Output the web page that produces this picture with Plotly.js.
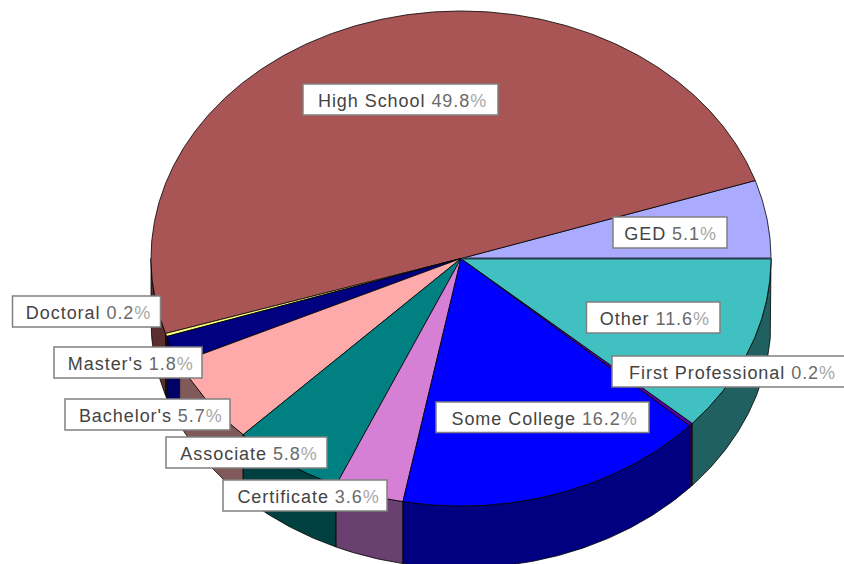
<!DOCTYPE html>
<html>
<head>
<meta charset="utf-8">
<script src="https://cdn.plot.ly/plotly-3.0.1.min.js"></script>
<style>
html,body{margin:0;padding:0;background:#fff;overflow:hidden}
.annotation text{letter-spacing:0.95px}
</style>
</head>
<body>
<div id="chart" style="width:844px;height:564px"></div>
<script>
// Data, counter-clockwise from the east point of the pie
const categories = ["GED","High School","Doctoral","Master's","Bachelor's","Associate","Certificate","Some College","First Professional","Other"];
const shares = [5.1,49.8,0.2,1.8,5.7,5.8,3.6,16.2,0.2,11.6];

// Styles
const topColors = ["#AAAAFF","#AA5555","#FFFF80","#000080","#FFAAAA","#008080","#D580D5","#0000FF","#5500AA","#40C0C0"];
const wallColors = ["#555580","#5C2E2E","#666633","#000066","#805A5A","#004040","#6A4070","#000080","#2A0055","#206060"];

// Label boxes: [left, top, right, bottom, text start]
const boxes = {
  "GED":[613,217,727,248,623],
  "High School":[303,84,498,115,318],
  "Doctoral":[12.5,296,160.5,327,25],
  "Master's":[54,347,202,378,67],
  "Bachelor's":[65,399,230,430,78],
  "Associate":[166,437,327,468,180],
  "Certificate":[223,480,387,511,237],
  "Some College":[436,402,649,432.5,451],
  "First Professional":[612,356,846,387,629],
  "Other":[586.5,302,720,333,599]
};

// Pie geometry in plot units
const cx = 461, cy = 258.5, rx = 310, ry = 247.5, depth = 62;
const px = d => cx + rx*Math.cos(d*Math.PI/180);
const py = d => cy - ry*Math.sin(d*Math.PI/180);
function arc(a,b){
  const out=[]; const n=Math.max(2,Math.ceil((b-a)/0.5));
  for(let i=0;i<=n;i++) out.push(a+(b-a)*i/n);
  return out;
}

const wallTraces=[], topTraces=[];
let acc=0;
categories.forEach((c,i)=>{
  const a=acc*3.6, b=(acc+shares[i])*3.6; acc+=shares[i];
  const pts=arc(a,b);
  topTraces.push({
    type:"scatter",mode:"lines",fill:"toself",fillcolor:topColors[i],
    x:[cx,...pts.map(px),cx],y:[cy,...pts.map(py),cy],
    line:{color:"#000",width:0.8},hoverinfo:"skip",showlegend:false,name:c
  });
  const wa=Math.max(a,180), wb=Math.min(b,360);
  if(wb>wa){
    const w=arc(wa,wb);
    wallTraces.push({
      type:"scatter",mode:"lines",fill:"toself",fillcolor:wallColors[i],
      x:[...w.map(px),...w.slice().reverse().map(px),px(wa)],
      y:[...w.map(py),...w.slice().reverse().map(d=>py(d)+depth),py(wa)],
      line:{color:"#000",width:0.8},hoverinfo:"skip",showlegend:false,name:c+" wall"
    });
  }
});
// the seam at the start angle reads heavier in the reference
const seam={type:"scatter",mode:"lines",x:[cx,px(0)],y:[cy,py(0)],line:{color:"#2A3A48",width:2},hoverinfo:"skip",showlegend:false,name:"seam"};

const shapes=[], annotations=[];
categories.forEach((c,i)=>{
  const [l,t,r,bt,tx]=boxes[c];
  const value=shares[i].toFixed(1);
  const len=(c+" "+value+"%").length;
  shapes.push({type:"rect",xref:"x",yref:"y",x0:l,x1:r,y0:t,y1:bt,fillcolor:"#fff",line:{color:"#808080",width:1.5},layer:"above"});
  // letter-spacing widens the text around its measured middle, so move the anchor by half the growth
  annotations.push({xref:"x",yref:"y",x:tx+0.44*len,y:(t+bt)/2+1.5,xanchor:"left",yanchor:"middle",showarrow:false,borderpad:0,
    text:'<span style="color:#444444">'+c+'</span> <span style="color:#6a6a6a">'+value+'</span><span style="color:#a8a8a8">%</span>',
    font:{family:"Liberation Sans, Arial, sans-serif",size:18,color:"#444444"}});
});

Plotly.newPlot("chart",[...wallTraces,...topTraces,seam],{
  width:844,height:564,margin:{l:0,r:0,t:0,b:0},
  paper_bgcolor:"#fff",plot_bgcolor:"#fff",
  xaxis:{range:[0,844],visible:false,fixedrange:true},
  yaxis:{range:[564,0],visible:false,fixedrange:true},
  shapes,annotations,showlegend:false
},{displayModeBar:false,staticPlot:true});
</script>
</body>
</html>
